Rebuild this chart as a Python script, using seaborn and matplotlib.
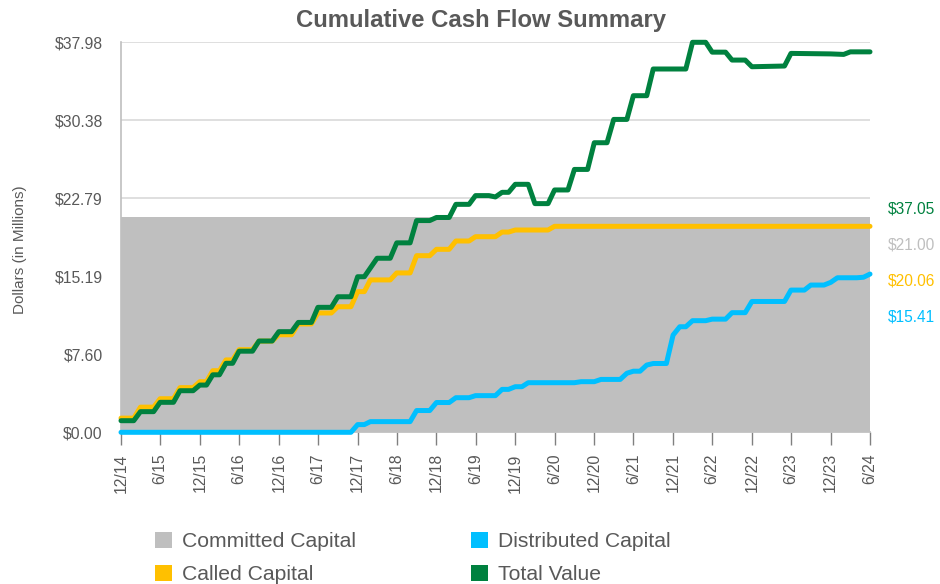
import numpy as np
import pandas as pd
import matplotlib
matplotlib.use("Agg")
import matplotlib.pyplot as plt
from matplotlib.patches import Patch
import seaborn as sns

# ---------------------------------------------------------------- data
series_names = ["Committed Capital", "Called Capital", "Distributed Capital", "Total Value"]
series_colors = ["#BFBFBF", "#FFC000", "#00BFFF", "#00813F"]

committed_capital = 21.00

called_dates = [
    "2014-12", "2015-02", "2015-03", "2015-05", "2015-06", "2015-08", "2015-09", "2015-11",
    "2015-12", "2016-01", "2016-02", "2016-03", "2016-04", "2016-05", "2016-06", "2016-08",
    "2016-09", "2016-11", "2016-12", "2017-02", "2017-03", "2017-05", "2017-06", "2017-08",
    "2017-09", "2017-11", "2017-12", "2018-01", "2018-02", "2018-05", "2018-06", "2018-08",
    "2018-09", "2018-11", "2018-12", "2019-02", "2019-03", "2019-05", "2019-06", "2019-09",
    "2019-10", "2019-11", "2019-12", "2020-05", "2020-06", "2024-06",
]
called_values = [
    1.38, 1.38, 2.45, 2.45, 3.27, 3.27, 4.35, 4.35,
    4.93, 4.93, 6.00, 6.00, 7.05, 7.05, 8.05, 8.05,
    8.88, 8.88, 9.50, 9.50, 10.55, 10.55, 11.62, 11.62,
    12.23, 12.23, 13.70, 13.70, 14.84, 14.84, 15.52, 15.52,
    17.20, 17.20, 17.82, 17.82, 18.63, 18.63, 19.05, 19.05,
    19.50, 19.50, 19.70, 19.70, 20.06, 20.06,
]

distributed_dates = [
    "2014-12", "2017-11", "2017-12", "2018-01", "2018-02", "2018-08", "2018-09", "2018-11",
    "2018-12", "2019-02", "2019-03", "2019-05", "2019-06", "2019-09", "2019-10", "2019-11",
    "2019-12", "2020-01", "2020-02", "2020-09", "2020-10", "2020-12", "2021-01", "2021-04",
    "2021-05", "2021-06", "2021-07", "2021-08", "2021-09", "2021-11", "2021-12", "2022-01",
    "2022-02", "2022-03", "2022-05", "2022-06", "2022-08", "2022-09", "2022-11", "2022-12",
    "2023-05", "2023-06", "2023-08", "2023-09", "2023-11", "2023-12", "2024-01", "2024-04",
    "2024-05", "2024-06",
]
distributed_values = [
    0.00, 0.00, 0.75, 0.75, 1.04, 1.04, 2.12, 2.12,
    2.90, 2.90, 3.37, 3.37, 3.57, 3.57, 4.18, 4.18,
    4.44, 4.44, 4.83, 4.83, 4.93, 4.93, 5.15, 5.15,
    5.75, 5.95, 5.95, 6.55, 6.70, 6.70, 9.47, 10.28,
    10.28, 10.87, 10.87, 11.02, 11.02, 11.65, 11.65, 12.74,
    12.74, 13.85, 13.85, 14.34, 14.34, 14.60, 15.05, 15.05,
    15.10, 15.41,
]

total_dates = [
    "2014-12", "2015-02", "2015-03", "2015-05", "2015-06", "2015-08", "2015-09", "2015-11",
    "2015-12", "2016-01", "2016-02", "2016-03", "2016-04", "2016-05", "2016-06", "2016-08",
    "2016-09", "2016-11", "2016-12", "2017-02", "2017-03", "2017-05", "2017-06", "2017-08",
    "2017-09", "2017-11", "2017-12", "2018-01", "2018-03", "2018-05", "2018-06", "2018-08",
    "2018-09", "2018-11", "2018-12", "2019-02", "2019-03", "2019-05", "2019-06", "2019-08",
    "2019-09", "2019-10", "2019-11", "2019-12", "2020-02", "2020-03", "2020-05", "2020-06",
    "2020-08", "2020-09", "2020-11", "2020-12", "2021-02", "2021-03", "2021-05", "2021-06",
    "2021-08", "2021-09", "2022-02", "2022-03", "2022-05", "2022-06", "2022-08", "2022-09",
    "2022-11", "2022-12", "2023-05", "2023-06", "2023-12", "2024-02", "2024-03", "2024-06",
]
total_values = [
    1.13, 1.13, 2.01, 2.01, 2.92, 2.92, 4.05, 4.05,
    4.60, 4.60, 5.60, 5.60, 6.72, 6.72, 7.90, 7.90,
    8.89, 8.89, 9.80, 9.80, 10.70, 10.70, 12.17, 12.17,
    13.20, 13.20, 15.15, 15.15, 16.95, 16.95, 18.45, 18.45,
    20.62, 20.62, 20.92, 20.92, 22.20, 22.20, 23.05, 23.05,
    22.92, 23.37, 23.37, 24.15, 24.15, 22.27, 22.27, 23.60,
    23.60, 25.60, 25.60, 28.20, 28.20, 30.47, 30.47, 32.78,
    32.78, 35.38, 35.38, 37.98, 37.98, 37.02, 37.02, 36.25,
    36.25, 35.60, 35.67, 36.90, 36.85, 36.80, 37.05, 37.05,
]

tick_labels = ["12/14", "6/15", "12/15", "6/16", "12/16", "6/17", "12/17", "6/18",
               "12/18", "6/19", "12/19", "6/20", "12/20", "6/21", "12/21", "6/22",
               "12/22", "6/23", "12/23", "6/24"]

# ---------------------------------------------------------------- helpers
def month_end(values):
    return pd.to_datetime(values) + pd.offsets.MonthEnd(0)

def label_date(lbl):
    m, y = lbl.split("/")
    return pd.Timestamp(year=2000 + int(y), month=int(m), day=1) + pd.offsets.MonthEnd(0)

frames = []
for name, d, v in [("Called Capital", called_dates, called_values),
                   ("Distributed Capital", distributed_dates, distributed_values),
                   ("Total Value", total_dates, total_values)]:
    frames.append(pd.DataFrame({"date": month_end(d), "value": v, "series": name}))
df = pd.concat(frames, ignore_index=True)

tick_dates = [label_date(t) for t in tick_labels]
start, end = tick_dates[0], tick_dates[-1]

# ---------------------------------------------------------------- style
sns.set_theme(style="white")
plt.rcParams["font.family"] = ["Liberation Sans", "DejaVu Sans"]
text_gray = "#595959"

fig = plt.figure(figsize=(9.4, 5.84), dpi=100)
ax = fig.add_axes([121 / 940, 1 - 432.3 / 584, (870 - 121) / 940, (432.3 - 42.3) / 584])

color_map = dict(zip(series_names, series_colors))

# committed capital as a filled band
ax.fill_between([start, end], 0, committed_capital, color=color_map["Committed Capital"],
                linewidth=0, zorder=1)

sns.lineplot(data=df, x="date", y="value", hue="series",
             hue_order=["Called Capital", "Distributed Capital", "Total Value"],
             palette=color_map, linewidth=3.6, legend=False, ax=ax, zorder=3,
             estimator=None, sort=False)
for ln in ax.lines:
    ln.set_clip_on(False)
    ln.set_solid_joinstyle("round")

# axes
y_max = max(total_values)
y_ticks = np.linspace(0, y_max, 6)
ax.set_ylim(0, y_max)
ax.set_xlim(start, end)
ax.set_yticks(y_ticks)
ax.set_yticklabels([f"${t:.2f}" for t in y_ticks])
ax.set_xticks(tick_dates)
ax.set_xticklabels(tick_labels, rotation=90)
ax.set_xlabel("")
ax.set_ylabel("Dollars (in Millions)", fontsize=11, color=text_gray)
ax.yaxis.set_label_coords(-0.1255, 0.467)

ax.yaxis.grid(True, color="#D9D9D9", linewidth=1.2, zorder=0)
ax.set_axisbelow(True)
for side in ["top", "right"]:
    ax.spines[side].set_visible(False)
ax.spines["left"].set_color("#BFBFBF")
ax.spines["bottom"].set_color("#BFBFBF")
ax.spines["left"].set_linewidth(1.2)

ax.tick_params(axis="y", length=0, pad=13, labelsize=11.3, labelcolor=text_gray)
ax.tick_params(axis="x", length=9, width=1, color="#808080", direction="out",
               pad=6, labelsize=11.3, labelcolor=text_gray, bottom=True)

# title
fig.text(480.5 / 940, 1 - 21 / 584, "Cumulative Cash Flow Summary", ha="center", va="center",
         fontsize=17.2, fontweight="bold", color=text_gray)

# ending values at the right
end_labels = [
    (total_values[-1], color_map["Total Value"], 209),
    (committed_capital, color_map["Committed Capital"], 245),
    (called_values[-1], color_map["Called Capital"], 281),
    (distributed_values[-1], color_map["Distributed Capital"], 317),
]
for val, col, ypix in end_labels:
    fig.text(888 / 940, 1 - ypix / 584, f"${val:.2f}", ha="left", va="center",
             fontsize=11.2, color=col)

# legend
handles = [Patch(facecolor=color_map[n], edgecolor="none") for n in series_names]
fig.legend(handles, series_names, ncol=2, loc="upper left",
           bbox_to_anchor=(155 / 940, 1 - 532 / 584), frameon=False, fontsize=15.2,
           handlelength=0.8, handleheight=0.8, handletextpad=0.5, columnspacing=5.42,
           labelspacing=0.62, borderpad=0, borderaxespad=0, labelcolor=text_gray)

fig.savefig("out.png", dpi=100)
